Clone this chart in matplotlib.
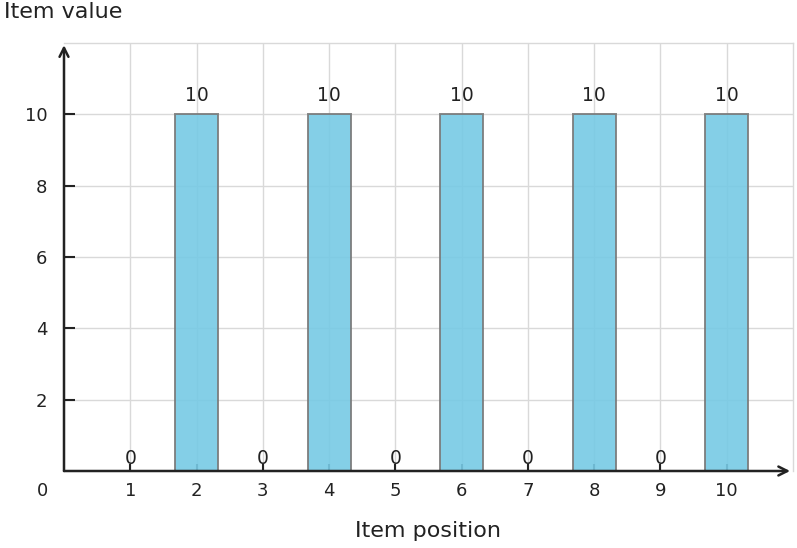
import matplotlib.pyplot as plt
import numpy as np

plt.rcParams['font.family'] = ['DejaVu Sans']

positions = [1, 2, 3, 4, 5, 6, 7, 8, 9, 10]
values = [0, 10, 0, 10, 0, 10, 0, 10, 0, 10]
y_ticks = [2, 4, 6, 8, 10]

fig = plt.figure(figsize=(7.97, 5.48), dpi=100)
ax = fig.add_axes([64 / 797, 77 / 548, (793 - 64) / 797, (471 - 43) / 548])

ax.set_xlim(0, 11)
ax.set_ylim(0, 12)
ax.set_xticks(positions)
ax.set_yticks(y_ticks)
ax.grid(True, color='#d9d9d9', linewidth=1.0)
ax.set_axisbelow(True)

ax.bar(positions, values, width=0.65, color='#77cae5', edgecolor='#7a7a7a',
       linewidth=1.4, alpha=0.9, zorder=2)

for x, v in zip(positions, values):
    off = 7 if v else 2
    ax.annotate(f'{v}', xy=(x, v), xytext=(0, off), textcoords='offset points',
                ha='center', va='bottom', fontsize=13.5, color='#222222')

for side in ['left', 'bottom']:
    ax.spines[side].set_visible(False)
for side in ['top', 'right']:
    ax.spines[side].set_color('#d9d9d9')
    ax.spines[side].set_linewidth(1.0)

ax.tick_params(axis='both', direction='in', colors='#222222', labelsize=13,
               width=1.5)
ax.tick_params(axis='x', length=5, pad=8)
ax.tick_params(axis='y', length=8, pad=12)

arrow = dict(arrowstyle='->', color='#222222', lw=1.8, shrinkA=0, shrinkB=0,
             mutation_scale=16)
ax.annotate('', xy=(0.996, 0), xytext=(0, 0), xycoords='axes fraction',
            arrowprops=arrow, annotation_clip=False, zorder=5)
ax.annotate('', xy=(0, 0.995), xytext=(0, 0), xycoords='axes fraction',
            arrowprops=arrow, annotation_clip=False, zorder=5)

fig.text(43 / 797, 1 - 491 / 548, '0', ha='center', va='center',
         fontsize=13, color='#222222')
fig.text(4 / 797, 1 - 12 / 548, 'Item value', ha='left', va='center',
         fontsize=16, color='#222222')
fig.text(428 / 797, 1 - 531 / 548, 'Item position', ha='center', va='center',
         fontsize=16, color='#222222')

fig.savefig('out.png', dpi=100)
